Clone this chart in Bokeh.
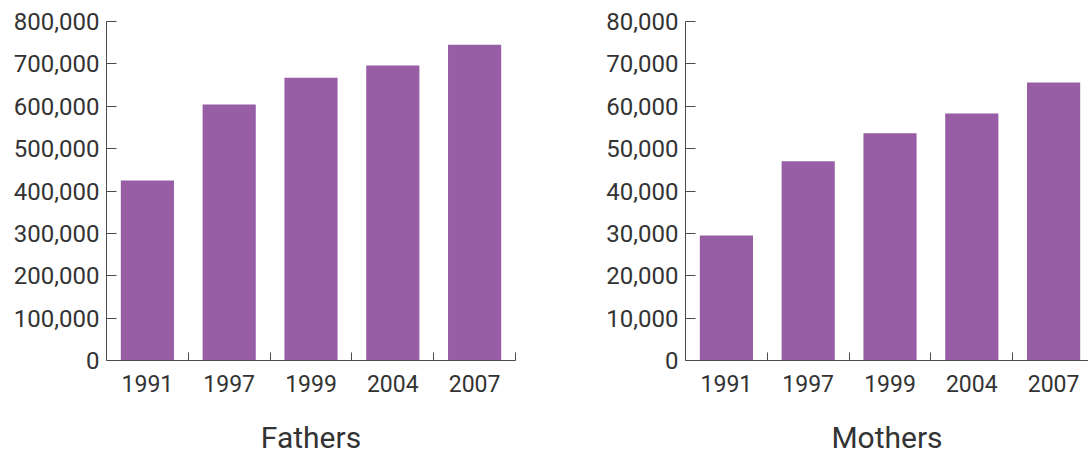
import numpy as np
from bokeh.plotting import figure
from bokeh.layouts import row
from bokeh.models import FixedTicker, NumeralTickFormatter, Range1d, Title
from bokeh.embed import file_html
from bokeh.resources import INLINE

years = ["1991", "1997", "1999", "2004", "2007"]
fathers = [425000, 604000, 667000, 696000, 745000]
mothers = [29500, 47000, 53600, 58300, 65600]
titles = ["Fathers", "Mothers"]
fathers_ticks = list(range(0, 800001, 100000))
mothers_ticks = list(range(0, 80001, 10000))

BAR = "#975ea6"
AXIS = "#4a4a4a"
TXT = "#333333"
FONT = "Roboto"

def make(values, yticks, title, width, border_left, border_right, frame_w, ref_frame_w):
    n = len(years)
    xend = n * frame_w / ref_frame_w
    p = figure(width=width, height=455, output_backend="svg", toolbar_location=None,
               x_range=Range1d(0, xend), y_range=Range1d(0, yticks[-1]),
               min_border_left=border_left, min_border_right=border_right,
               min_border_top=21, min_border_bottom=95)
    xs = np.arange(n) + 0.5
    p.vbar(x=xs, top=values, width=0.65, color=BAR, line_color=None)
    p.outline_line_color = None
    p.grid.visible = False
    p.background_fill_color = "white"

    xa = p.xaxis[0]
    xa.ticker = FixedTicker(ticks=list(xs), minor_ticks=list(np.arange(1, n + 1)))
    xa.major_label_overrides = {float(x): y for x, y in zip(xs, years)}
    xa.major_tick_line_color = None
    xa.minor_tick_in = 8
    xa.minor_tick_out = 0
    xa.minor_tick_line_color = AXIS
    xa.axis_line_color = AXIS
    xa.major_label_text_font = FONT
    xa.major_label_text_font_size = "23px"
    xa.major_label_text_color = TXT
    xa.major_label_standoff = 8

    # blank spacer, then the panel title below the axis
    p.add_layout(Title(text=" ", text_font=FONT, text_font_size="18px",
                       standoff=0), "below")
    p.add_layout(Title(text=title, align="center", text_font=FONT,
                       text_font_size="30px", text_font_style="normal",
                       text_color=TXT, standoff=0), "below")

    ya = p.yaxis[0]
    ya.ticker = FixedTicker(ticks=yticks, minor_ticks=[])
    ya.formatter = NumeralTickFormatter(format="0,0")
    ya.major_tick_in = 10
    ya.major_tick_out = 0
    ya.major_tick_line_color = AXIS
    ya.axis_line_color = AXIS
    ya.major_label_text_font = FONT
    ya.major_label_text_font_size = "24px"
    ya.major_label_text_color = TXT
    ya.major_label_standoff = 7
    return p

left_fw = 409
right_fw = 403
p1 = make(fathers, fathers_ticks, titles[0], 590, 106, 75, left_fw, left_fw)
p2 = make(mothers, mothers_ticks, titles[1], 498, 95, 0, right_fw, left_fw)
layout = row(p1, p2)
open("out.html", "w").write(file_html(layout, INLINE))
